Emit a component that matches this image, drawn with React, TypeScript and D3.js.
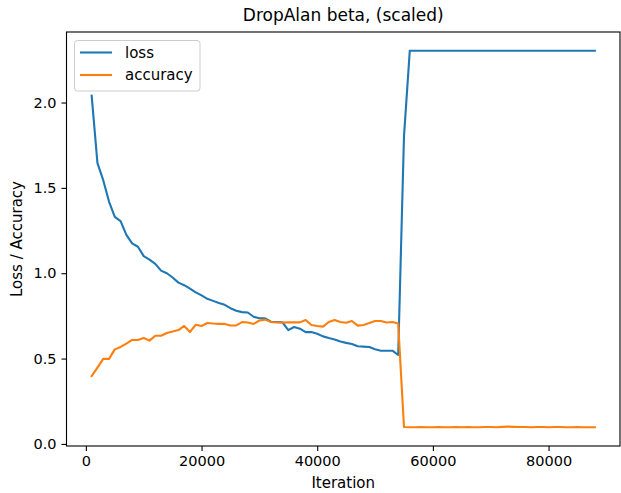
import * as d3 from "d3";
import { useEffect, useRef } from "react";

// iterations, one sample every 1000 steps
const iterations: number[] = d3.range(1000, 89000, 1000);

const lossValues: number[] = [
    2.04, 1.645, 1.545, 1.42, 1.33, 1.305, 1.225, 1.175, 1.155, 1.1,
    1.08, 1.055, 1.015, 1.0, 0.975, 0.945, 0.93, 0.91, 0.888, 0.87,
    0.85, 0.838, 0.825, 0.815, 0.795, 0.78, 0.772, 0.77, 0.745, 0.736,
    0.736, 0.716, 0.714, 0.712, 0.667, 0.685, 0.675, 0.655, 0.655, 0.645,
    0.63, 0.62, 0.612, 0.6, 0.592, 0.585, 0.572, 0.57, 0.568, 0.555,
    0.546, 0.546, 0.546, 0.521, 1.8,
    2.303, 2.303, 2.303, 2.303, 2.303, 2.303, 2.303, 2.303, 2.303, 2.303,
    2.303, 2.303, 2.303, 2.303, 2.303, 2.303, 2.303, 2.303, 2.303, 2.303,
    2.303, 2.303, 2.303, 2.303, 2.303, 2.303, 2.303, 2.303, 2.303, 2.303,
    2.303, 2.303, 2.303,
];

const accuracyValues: number[] = [
    0.398, 0.447, 0.498, 0.498, 0.554, 0.568, 0.588, 0.609, 0.609, 0.62,
    0.605, 0.634, 0.634, 0.65, 0.658, 0.667, 0.691, 0.656, 0.698, 0.691,
    0.708, 0.705, 0.703, 0.703, 0.694, 0.694, 0.714, 0.711, 0.703, 0.723,
    0.728, 0.714, 0.711, 0.711, 0.712, 0.712, 0.712, 0.726, 0.697, 0.691,
    0.687, 0.714, 0.726, 0.714, 0.71, 0.72, 0.693, 0.697, 0.708, 0.72,
    0.72, 0.711, 0.714, 0.705, 0.099,
    0.098, 0.098, 0.099, 0.098, 0.098, 0.099, 0.098, 0.098, 0.099, 0.098,
    0.099, 0.098, 0.098, 0.099, 0.099, 0.098, 0.1, 0.101, 0.1, 0.099,
    0.099, 0.098, 0.099, 0.099, 0.098, 0.099, 0.099, 0.098, 0.098, 0.099,
    0.098, 0.098, 0.098,
];

const xTicks = [0, 20000, 40000, 60000, 80000];
const yTicks = [0.0, 0.5, 1.0, 1.5, 2.0];

const seriesNames = ["loss", "accuracy"];
const seriesColors = ["#1f77b4", "#ff7f0e"];

const width = 621;
const height = 493;
const font = "DejaVu Sans, sans-serif";

function Chart() {
    const ref = useRef<SVGSVGElement>(null);

    useEffect(() => {
        const margin = { top: 32, bottom: 47, left: 66.5, right: 1 };

        d3.select(ref.current).selectAll("*").remove();
        const svg = d3.select(ref.current);

        // matplotlib-style 5% padding
        const xMin = d3.min(iterations)!;
        const xMax = d3.max(iterations)!;
        const xPad = (xMax - xMin) * 0.05;
        const x = d3.scaleLinear()
            .domain([xMin - xPad, xMax + xPad])
            .range([margin.left, width - margin.right]);

        const allY = [...lossValues, ...accuracyValues];
        const yMin = d3.min(allY)!;
        const yMax = d3.max(allY)!;
        const yPad = (yMax - yMin) * 0.05;
        const y = d3.scaleLinear()
            .domain([yMin - yPad, yMax + yPad])
            .range([height - margin.bottom, margin.top]);

        svg.append("rect")
            .attr("width", width)
            .attr("height", height)
            .attr("fill", "white");

        // Lines
        const line = d3.line<number>()
            .x((_, i) => x(iterations[i]))
            .y((d) => y(d));

        [lossValues, accuracyValues].forEach((vals, k) => {
            svg.append("path")
                .attr("d", line(vals)!)
                .attr("fill", "none")
                .attr("stroke", seriesColors[k])
                .attr("stroke-width", 2.1)
                .attr("stroke-linejoin", "round")
                .attr("stroke-linecap", "square");
        });

        // Axes
        const xAxis = svg.append("g")
            .attr("transform", `translate(0,${height - margin.bottom})`)
            .call(d3.axisBottom(x).tickValues(xTicks).tickSize(5).tickPadding(5).tickFormat(d3.format("d")));
        const yAxis = svg.append("g")
            .attr("transform", `translate(${margin.left},0)`)
            .call(d3.axisLeft(y).tickValues(yTicks).tickSize(5).tickPadding(5).tickFormat(d3.format(".1f")));

        [xAxis, yAxis].forEach((g) => {
            g.select(".domain").remove();
            g.selectAll("line").attr("stroke", "black").attr("stroke-width", 1.1);
            g.selectAll("text")
                .attr("fill", "black")
                .style("font-family", font)
                .style("font-size", "14.5px");
        });

        // Frame
        svg.append("rect")
            .attr("x", margin.left)
            .attr("y", margin.top)
            .attr("width", width - margin.right - margin.left)
            .attr("height", height - margin.bottom - margin.top)
            .attr("fill", "none")
            .attr("stroke", "black")
            .attr("stroke-width", 1.1);

        // Title and labels
        const cx = (margin.left + width - margin.right) / 2;
        svg.append("text")
            .attr("x", cx)
            .attr("y", 21)
            .attr("text-anchor", "middle")
            .style("font-family", font)
            .style("font-size", "17px")
            .text("DropAlan beta, (scaled)");

        svg.append("text")
            .attr("x", cx)
            .attr("y", 488)
            .attr("text-anchor", "middle")
            .style("font-family", font)
            .style("font-size", "15px")
            .text("Iteration");

        svg.append("text")
            .attr("transform", `translate(22,${(margin.top + height - margin.bottom) / 2}) rotate(-90)`)
            .attr("text-anchor", "middle")
            .style("font-family", font)
            .style("font-size", "15px")
            .text("Loss / Accuracy");

        // Legend
        const legend = svg.append("g").attr("transform", "translate(74.5,40.5)");
        legend.append("rect")
            .attr("width", 125.5)
            .attr("height", 50.5)
            .attr("rx", 3)
            .attr("fill", "white")
            .attr("fill-opacity", 0.8)
            .attr("stroke", "#cccccc")
            .attr("stroke-width", 1);
        seriesNames.forEach((name, i) => {
            const ly = 12 + i * 22.5;
            legend.append("line")
                .attr("x1", 5.5)
                .attr("x2", 37.5)
                .attr("y1", ly)
                .attr("y2", ly)
                .attr("stroke", seriesColors[i])
                .attr("stroke-width", 2.1);
            legend.append("text")
                .attr("x", 50.5)
                .attr("y", ly + 5)
                .style("font-family", font)
                .style("font-size", "15px")
                .text(name);
        });
    }, []);

    return (
        <svg
            ref={ref}
            width={width}
            height={height}
            style={{ position: "absolute", left: 0, top: 0 }}
        />
    );
}

export default function App() {
    return <Chart />;
}
